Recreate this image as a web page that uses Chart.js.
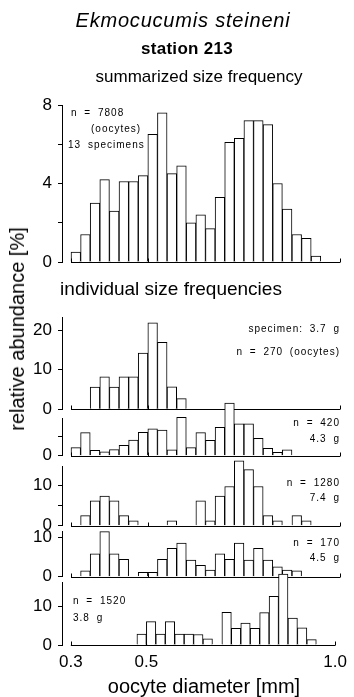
<!DOCTYPE html>
<html>
<head>
<meta charset="utf-8">
<script src="https://cdn.jsdelivr.net/npm/chart.js@4.4.1/dist/chart.umd.min.js"></script>
<style>
  html, body { margin: 0; padding: 0; background: #fff; }
  #page { position: relative; width: 354px; height: 697px; overflow: hidden;
          font-family: 'Liberation Sans', Arial, Helvetica, sans-serif; color: #000; }
  #page canvas { position: absolute; left: 0; top: 0; }
  .t { position: absolute; white-space: pre; line-height: 1; }
  .c { transform: translateX(-50%); }
  .note { font-size: 10px; letter-spacing: 1px; word-spacing: 3px; }
  .r { right: 14px; text-align: right; }
</style>
</head>
<body>
<div id="page">
  <canvas id="panelSum" width="354" height="697"></canvas>
  <canvas id="panel37" width="354" height="697"></canvas>
  <canvas id="panel43" width="354" height="697"></canvas>
  <canvas id="panel74" width="354" height="697"></canvas>
  <canvas id="panel45" width="354" height="697"></canvas>
  <canvas id="panel38" width="354" height="697"></canvas>

  <div class="t c" style="left:183px; top:10px; font-size:20px; font-style:italic; letter-spacing:0.8px;">Ekmocucumis steineni</div>
  <div class="t c" style="left:187px; top:40px; font-size:17px; font-weight:bold; letter-spacing:0.3px;">station 213</div>
  <div class="t c" style="left:199px; top:68px; font-size:17px;">summarized size frequency</div>
  <div class="t c" style="left:171px; top:279px; font-size:19px;">individual size frequencies</div>
  <div class="t c" style="left:204px; top:676px; font-size:20px;">oocyte diameter [mm]</div>
  <div class="t" style="left:17px; top:329px; font-size:20px; transform: translate(-50%, -50%) rotate(-90deg);">relative abundance [%]</div>

  <div class="t note" style="left:71px; top:108px;">n = 7808</div>
  <div class="t note" style="left:91px; top:124px;">(oocytes)</div>
  <div class="t note" style="left:68px; top:140px;">13 specimens</div>

  <div class="t note r" style="top:324px;">specimen: 3.7 g</div>
  <div class="t note r" style="top:347px;">n = 270 (oocytes)</div>
  <div class="t note r" style="top:418px;">n = 420</div>
  <div class="t note r" style="top:434px;">4.3 g</div>
  <div class="t note r" style="top:478px;">n = 1280</div>
  <div class="t note r" style="top:493px;">7.4 g</div>
  <div class="t note r" style="top:538px;">n = 170</div>
  <div class="t note r" style="top:553px;">4.5 g</div>
  <div class="t note" style="left:73px; top:596px;">n = 1520</div>
  <div class="t note" style="left:73px; top:613px;">3.8 g</div>
</div>

<script>
// bins of 0.025 mm, left edges
const binStarts = [0.300, 0.325, 0.350, 0.375, 0.400, 0.425, 0.450, 0.475, 0.500, 0.525,
                   0.550, 0.575, 0.600, 0.625, 0.650, 0.675, 0.700, 0.725, 0.750, 0.775,
                   0.800, 0.825, 0.850, 0.875, 0.900, 0.925];
const binWidth = 0.025;

// relative abundance [%] per bin
const summarized = [0.5, 1.4, 3.0, 4.2, 2.6, 4.1, 4.1, 4.4, 6.5, 7.6, 4.5, 4.9, 2.0, 2.4, 1.7, 3.3, 6.1, 6.3, 7.2, 7.2, 7.0, 4.0, 2.7, 1.4, 1.2, 0.3];
const spec37 = [0, 0, 5.6, 8.2, 5.6, 8.2, 8.2, 14.2, 21.8, 16.9, 5.7, 2.7, 0, 0, 0, 0, 0, 0, 0, 0, 0, 0, 0, 0, 0, 0];
const spec43 = [2.1, 6.0, 1.4, 1.0, 1.6, 2.7, 4.1, 6.1, 7.0, 6.7, 1.5, 10.0, 2.1, 6.0, 4.0, 7.4, 13.7, 8.3, 8.3, 4.5, 1.9, 0.9, 1.5, 0, 0, 0];
const spec74 = [0, 2.5, 6.2, 7.4, 6.2, 2.5, 1.2, 0, 0, 0, 1.2, 0, 0, 6.2, 1.2, 7.4, 9.8, 16.2, 14.0, 9.8, 2.5, 1.2, 0, 2.5, 1.2, 0];
const spec45 = [0, 1.5, 5.8, 11.4, 5.8, 4.4, 0, 1.1, 1.1, 4.4, 7.2, 8.5, 4.2, 2.9, 1.7, 5.8, 4.4, 8.5, 4.2, 7.2, 4.2, 2.5, 1.7, 1.5, 0, 0];
const spec38 = [0, 0, 0, 0, 0, 0, 0, 2.8, 6.0, 2.8, 6.0, 2.8, 2.8, 2.7, 1.6, 0, 8.4, 4.3, 5.6, 4.3, 8.3, 12.5, 18.2, 6.9, 4.4, 1.4];

// axis ticks
const xTicks = [0.3, 0.5, 1.0];
const yTicksSum = [0, 2, 4, 6, 8];
const yLabelsSum = [0, 4, 8];
const yTicks37 = [0, 5, 10, 15, 20];
const yLabels37 = [0, 10, 20];
const yTicks43 = [0, 5];
const yLabels43 = [0];
const yTicks74 = [0, 5, 10];
const yLabels74 = [0, 10];
const yTicks45 = [0, 5, 10];
const yLabels45 = [0, 10];
const yTicks38 = [0, 5, 10, 15];
const yLabels38 = [0, 10];

Chart.defaults.font.family = "'Liberation Sans', Arial, Helvetica, sans-serif";
Chart.defaults.color = '#000';

const PAGE_H = 697;
const X_MIN = 0.2766;  // leaves the small gap between y axis and 0.3

// x baseline from 0.3 to 1.0 with small inward ticks
const baseline = {
  id: 'baseline',
  afterDatasetsDraw(chart) {
    const { ctx, scales: { x, y } } = chart;
    const y0 = Math.round(y.getPixelForValue(0)) + 0.5;
    ctx.save();
    ctx.strokeStyle = '#000';
    ctx.lineWidth = 1;
    ctx.beginPath();
    ctx.moveTo(x.getPixelForValue(xTicks[0]), y0);
    ctx.lineTo(x.getPixelForValue(xTicks[xTicks.length - 1]), y0);
    xTicks.forEach(v => {
      const px = Math.round(x.getPixelForValue(v)) + 0.5;
      ctx.moveTo(px, y0);
      ctx.lineTo(px, y0 - 4);
    });
    ctx.stroke();
    ctx.restore();
  }
};

function makePanel(id, values, yMax, yTicks, yLabels, areaTop, areaBottom, showX) {
  const xHeight = showX ? 26 : 0;
  new Chart(document.getElementById(id), {
    type: 'bar',
    data: {
      datasets: [{
        data: binStarts.map((s, i) => ({ x: s + binWidth / 2, y: values[i] })),
        backgroundColor: '#fff',
        borderColor: '#000',
        borderWidth: 1,
        barPercentage: 1,
        categoryPercentage: 1,
        clip: false
      }]
    },
    options: {
      responsive: false,
      animation: false,
      devicePixelRatio: 1,
      layout: { padding: { top: areaTop, bottom: PAGE_H - areaBottom - xHeight, left: 0, right: 14 } },
      plugins: { legend: { display: false }, tooltip: { enabled: false } },
      scales: {
        x: {
          type: 'linear',
          min: X_MIN,
          max: 1.0,
          offset: false,
          display: showX,
          grid: { display: false, drawTicks: false, offset: false },
          border: { display: false },
          afterBuildTicks: s => { s.ticks = xTicks.map(v => ({ value: v })); },
          afterFit: s => { s.height = xHeight; },
          ticks: { font: { size: 17 }, padding: 7, autoSkip: false, maxRotation: 0,
                   callback: v => v.toFixed(1) }
        },
        y: {
          min: 0,
          max: yMax,
          grid: { drawOnChartArea: false, drawTicks: true, tickLength: 4, color: '#000' },
          border: { display: true, color: '#000', width: 1 },
          afterBuildTicks: s => { s.ticks = yTicks.map(v => ({ value: v })); },
          afterFit: s => { s.width = 62; },
          ticks: { font: { size: 17 }, padding: 6,
                   callback: v => yLabels.includes(v) ? String(v) : '' }
        }
      }
    },
    plugins: [baseline]
  });
}

makePanel('panelSum', summarized, 8, yTicksSum, yLabelsSum, 105, 262, false);
makePanel('panel37', spec37, 23.3, yTicks37, yLabels37, 317, 409.3, false);
makePanel('panel43', spec43, 9.75, yTicks43, yLabels43, 418.3, 455.7, false);
makePanel('panel74', spec74, 14.75, yTicks74, yLabels74, 466.7, 525.7, false);
makePanel('panel45', spec45, 11.4, yTicks45, yLabels45, 531.7, 576.7, false);
makePanel('panel38', spec38, 16.0, yTicks38, yLabels38, 582.7, 645, true);
</script>
</body>
</html>
